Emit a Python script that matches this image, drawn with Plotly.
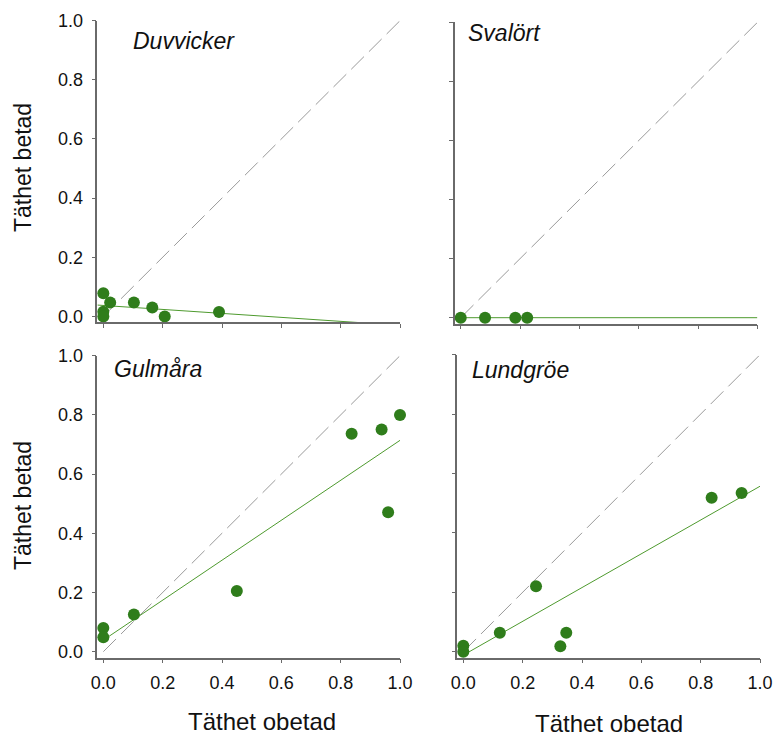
import plotly.graph_objects as go

W, H = 774, 737

# ---------------- data ----------------
panel_names = ["Duvvicker", "Svalört", "Gulmåra", "Lundgröe"]

duv_x = [0.0, 0.023, 0.103, 0.165, 0.207, 0.39, 0.0, 0.0]
duv_y = [0.078, 0.047, 0.047, 0.030, 0.0, 0.015, 0.016, 0.0]

sva_x = [0.0, 0.082, 0.184, 0.224]
sva_y = [0.0, 0.0, 0.0, 0.0]

gul_x = [0.0, 0.0, 0.103, 0.45, 0.837, 0.938, 1.0, 0.96]
gul_y = [0.08, 0.049, 0.126, 0.205, 0.736, 0.751, 0.80, 0.471]

lun_x = [0.0, 0.0, 0.123, 0.245, 0.327, 0.347, 0.837, 0.938]
lun_y = [0.02, 0.0, 0.064, 0.22, 0.018, 0.064, 0.518, 0.534]

# fitted regression lines (end points)
duv_fit_x = [-0.02, 1.0]
duv_fit_y = [0.0383, -0.0302]
sva_fit_x = [-0.02, 1.0]
sva_fit_y = [0.0, 0.0]
gul_fit_x = [0.0, 1.0]
gul_fit_y = [0.039, 0.714]
lun_fit_x = [0.0, 1.0]
lun_fit_y = [-0.0116, 0.557]

# 1:1 reference line
ref_x = [0.0, 1.0]
ref_y = [0.0, 1.0]

tick_vals = [0.0, 0.2, 0.4, 0.6, 0.8, 1.0]
tick_text = ["0.0", "0.2", "0.4", "0.6", "0.8", "1.0"]

x_title = "Täthet obetad"
y_title = "Täthet betad"

# ---------------- styling ----------------
DOT = "#2F7D1B"
FIT = "#4E9A2E"
REF = "#9A9A9A"
AX = "#6A6A6A"
FONT = "Arial, Liberation Sans, sans-serif"

# panel pixel boxes: (left, right, top, bottom) -> axis range [-0.02, 1.0]
boxes = [
    (97.4, 400.0, 20.7, 322.3),
    (454.8, 757.4, 22.4, 323.6),
    (97.4, 400.0, 355.7, 657.6),
    (457.4, 760.0, 354.7, 657.6),
]

series = [
    (duv_x, duv_y, duv_fit_x, duv_fit_y),
    (sva_x, sva_y, sva_fit_x, sva_fit_y),
    (gul_x, gul_y, gul_fit_x, gul_fit_y),
    (lun_x, lun_y, lun_fit_x, lun_fit_y),
]

fig = go.Figure()
layout_axes = {}
for i, ((l, r, t, b), (px, py, fx, fy)) in enumerate(zip(boxes, series)):
    n = "" if i == 0 else str(i + 1)
    xa, ya = "x" + n, "y" + n
    fig.add_trace(go.Scatter(x=ref_x, y=ref_y, mode="lines", xaxis=xa, yaxis=ya,
                             line=dict(color=REF, width=1, dash="18px,7px"),
                             hoverinfo="skip", showlegend=False))
    fig.add_trace(go.Scatter(x=fx, y=fy, mode="lines", xaxis=xa, yaxis=ya,
                             line=dict(color=FIT, width=1),
                             hoverinfo="skip", showlegend=False))
    fig.add_trace(go.Scatter(x=px, y=py, mode="markers", xaxis=xa, yaxis=ya,
                             marker=dict(color=DOT, size=12, line=dict(width=0)),
                             cliponaxis=False, showlegend=False))
    common = dict(range=[-0.02, 1.0], showgrid=False, zeroline=False,
                  showline=True, linecolor=AX, linewidth=1.5,
                  ticks="outside", ticklen=4, tickwidth=1, tickcolor=AX,
                  tickvals=tick_vals, ticktext=tick_text,
                  tickfont=dict(family=FONT, size=18, color="#111"),
                  automargin=False, fixedrange=True)
    layout_axes["xaxis" + n] = dict(common, domain=[l / W, r / W], anchor=ya,
                                    showticklabels=(i >= 2), ticklabelstandoff=4)
    layout_axes["yaxis" + n] = dict(common, domain=[1 - b / H, 1 - t / H], anchor=xa,
                                    showticklabels=(i % 2 == 0), ticklabelstandoff=5)

fig.update_layout(**layout_axes)

ann = []
# panel labels
label_pos = [(130.5, 41), (466.5, 33), (111.5, 369), (470, 370)]
for name, (x, y) in zip(panel_names, label_pos):
    ann.append(dict(text="<i>" + name + "</i>", x=x / W, y=1 - y / H, xref="paper", yref="paper",
                    xanchor="left", yanchor="middle", showarrow=False,
                    font=dict(family=FONT, size=23, color="#111")))
# axis titles
ann.append(dict(text=y_title, x=23 / W, y=1 - 168 / H, xref="paper", yref="paper",
                textangle=-90, showarrow=False, xanchor="center", yanchor="middle",
                font=dict(family=FONT, size=23, color="#111")))
ann.append(dict(text=y_title, x=23 / W, y=1 - 506 / H, xref="paper", yref="paper",
                textangle=-90, showarrow=False, xanchor="center", yanchor="middle",
                font=dict(family=FONT, size=23, color="#111")))
ann.append(dict(text=x_title, x=262 / W, y=1 - 721 / H, xref="paper", yref="paper",
                showarrow=False, xanchor="center", yanchor="middle",
                font=dict(family=FONT, size=24, color="#111")))
ann.append(dict(text=x_title, x=609 / W, y=1 - 723 / H, xref="paper", yref="paper",
                showarrow=False, xanchor="center", yanchor="middle",
                font=dict(family=FONT, size=24, color="#111")))

fig.update_layout(width=W, height=H, margin=dict(l=0, r=0, t=0, b=0),
                  paper_bgcolor="white", plot_bgcolor="white",
                  annotations=ann, showlegend=False)

fig.write_html("out.html", config={"displayModeBar": False},
               post_script="document.body.style.margin='0';document.body.style.padding='0';"
                           "document.body.style.overflow='hidden';")
